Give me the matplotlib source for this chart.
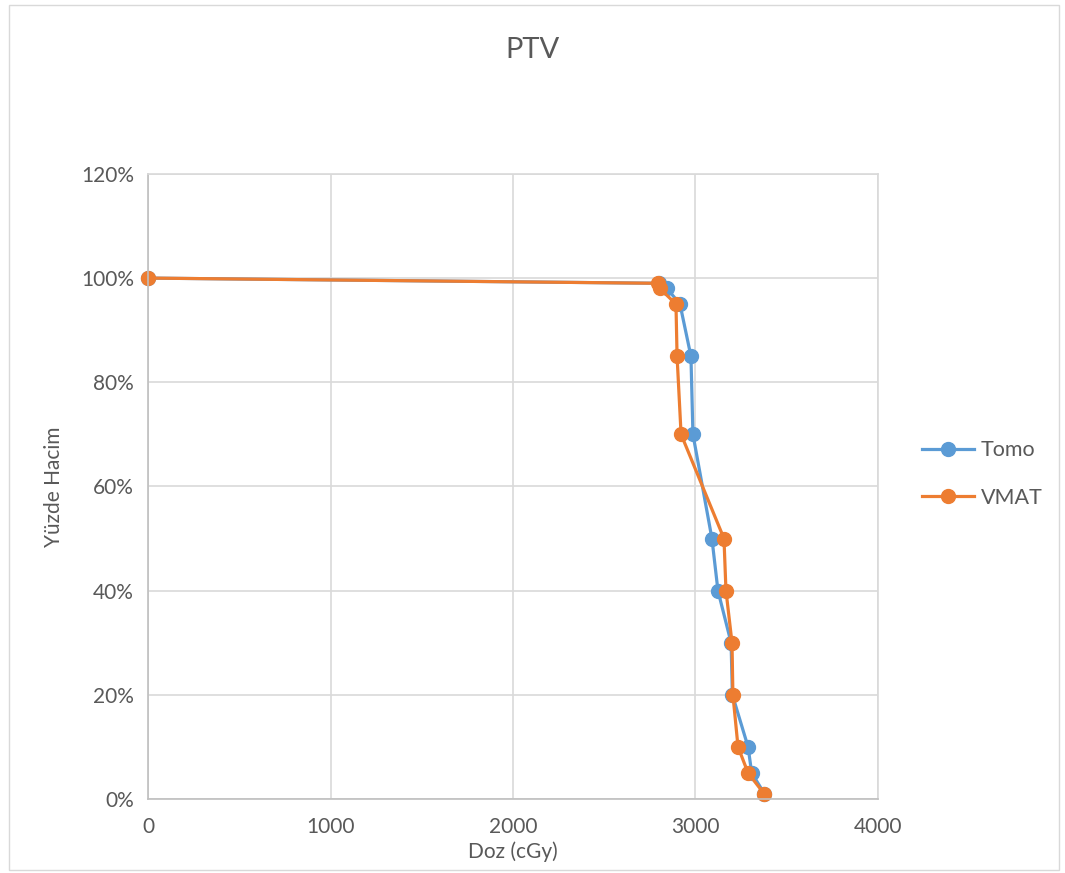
import matplotlib
matplotlib.use("Agg")
import matplotlib.pyplot as plt
from matplotlib.patches import Rectangle
from matplotlib.ticker import PercentFormatter

plt.rcParams['font.family'] = ['Lato', 'DejaVu Sans']

# dose (cGy) vs volume (%)
tomo_dose = [0, 2800, 2844, 2915, 2975, 2986, 3090, 3123, 3195, 3202, 3288, 3308, 3378]
tomo_vol = [100, 99, 98, 95, 85, 70, 50, 40, 30, 20, 10, 5, 1]
vmat_dose = [0, 2795, 2805, 2893, 2899, 2921, 3156, 3167, 3200, 3205, 3233, 3288, 3376]
vmat_vol = [100, 99, 98, 95, 85, 70, 50, 40, 30, 20, 10, 5, 1]

text_col = '#595959'
grid_col = '#D9D9D9'

fig = plt.figure(figsize=(10.65, 8.73), dpi=100)
fig.patches.append(Rectangle((0.008, 0.004), 0.986, 0.99, transform=fig.transFigure,
                             fill=False, edgecolor=grid_col, linewidth=1))

ax = fig.add_axes([0.139, 0.0848, 0.6854, 0.716])
ax.plot(tomo_dose, tomo_vol, '-o', color='#5B9BD5', lw=2.3, ms=10, label='Tomo', clip_on=False)
ax.plot(vmat_dose, vmat_vol, '-o', color='#ED7D31', lw=2.3, ms=10, label='VMAT', clip_on=False)

ax.set_xlim(0, 4000)
ax.set_ylim(0, 120)
ax.set_xticks([0, 1000, 2000, 3000, 4000])
ax.set_yticks(range(0, 121, 20))
ax.yaxis.set_major_formatter(PercentFormatter(decimals=0))
ax.grid(True, color=grid_col, lw=1.2)
ax.set_axisbelow(True)
for s in ax.spines.values():
    s.set_color(grid_col)
    s.set_linewidth(1.2)
ax.spines['left'].set_color('#BFBFBF')
ax.spines['bottom'].set_color('#BFBFBF')
ax.tick_params(length=0, labelsize=15, colors=text_col, pad=10)
ax.tick_params(axis='x', pad=13)

ax.set_xlabel('Doz (cGy)', fontsize=15, color=text_col, labelpad=3)
ax.set_ylabel('Yüzde Hacim', fontsize=15, color=text_col, labelpad=12)
fig.text(0.5, 0.943, 'PTV', ha='center', va='center', fontsize=21, color=text_col)

fig.legend(loc='center left', bbox_to_anchor=(0.848, 0.457), frameon=False,
           fontsize=15.5, labelcolor=text_col, handlelength=2.4, handletextpad=0.3,
           labelspacing=1.3)

fig.savefig('out.png', dpi=100)
